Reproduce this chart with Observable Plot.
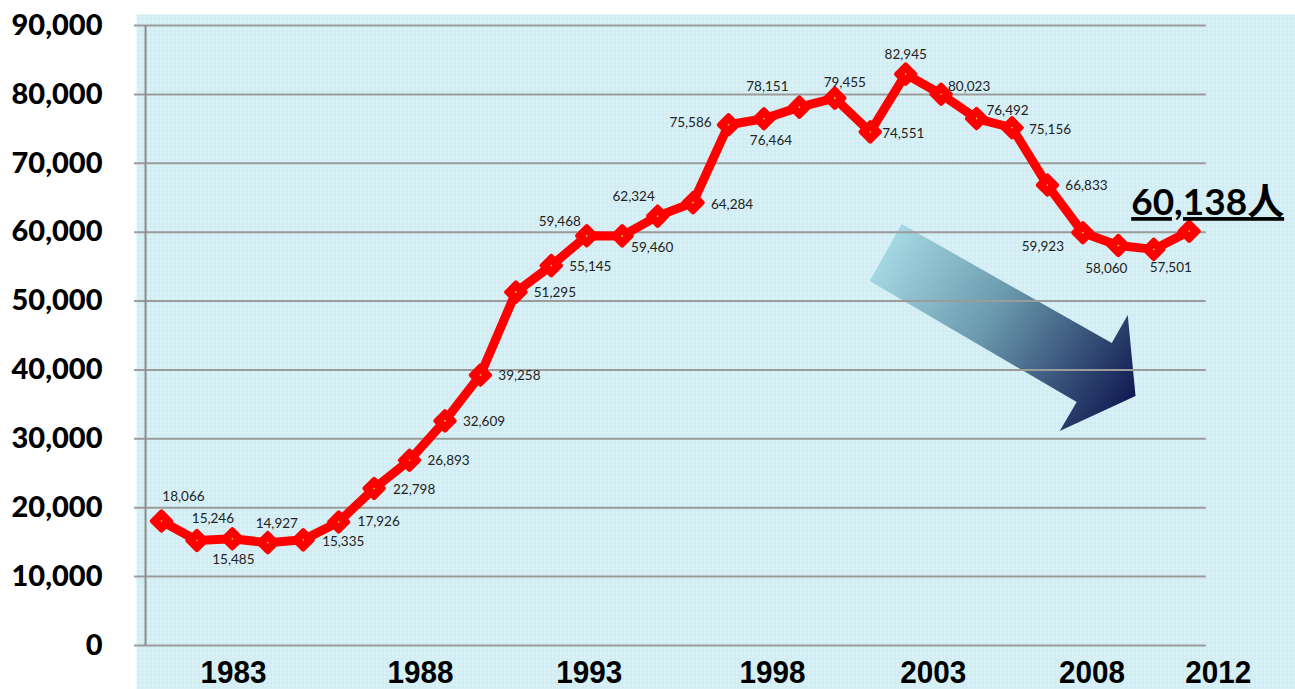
<!DOCTYPE html>
<html><head><meta charset="utf-8">
<script src="https://cdn.jsdelivr.net/npm/d3@7"></script>
<script src="https://cdn.jsdelivr.net/npm/@observablehq/plot@0.6"></script>
<style>
html,body{margin:0;padding:0;background:#fff;}
#chart svg{display:block;}
</style></head><body><div id="chart"></div>
<script>
// ---- data ----
const years = [1983,1984,1985,1986,1987,1988,1989,1990,1991,1992,1993,1994,1995,1996,1997,1998,1999,2000,2001,2002,2003,2004,2005,2006,2007,2008,2009,2010,2011,2012];
const students = [18066,15246,15485,14927,15335,17926,22798,26893,32609,39258,51295,55145,59468,59460,62324,64284,75586,76464,78151,79455,74551,82945,80023,76492,75156,66833,59923,58060,57501,60138];
const yTicks = [0,10000,20000,30000,40000,50000,60000,70000,80000,90000];
const xTickLabels = ["1983","1988","1993","1998","2003","2008","2012"];
const unit = "人";

const data = years.map((year, i) => ({year, value: students[i]}));
const fmt = d3.format(",");

// ---- placement (px offsets of each value label from its point) ----
const labelOffsets = [[22,-24],[16,-22],[1,21],[9,-19],[40,2],[40,0],[40,1],[39,0],[39,1],[39,1],
  [39,1],[39,1],[-27,-14],[30,12],[-24,-19],[39,2],[-38,-2],[7,22],[-32,-20],[10,-15],
  [33,2],[0,-19],[28,-8],[31,-8],[38,2],[39,1],[-40,14],[-12,23],[17,18]];
// x-axis labels sit where the original's text boxes were
const xTickAt = [1985.03, 1990.31, 1995.07, 2000.24, 2004.78, 2009.26, 2012.82];

const font = "Lato, 'Noto Sans CJK JP', sans-serif";
const axisFont = "'Liberation Sans', Arial, sans-serif";

const valueLabels = data.slice(0, -1).map((d, i) => Plot.text([d], {
  x: "year", y: "value", text: d => fmt(d.value),
  dx: labelOffsets[i][0], dy: labelOffsets[i][1],
  fontSize: 13.5, fill: "#222", fontFamily: font
}));

const plot = Plot.plot({
  width: 1295, height: 689,
  marginLeft: 136, marginRight: 0, marginTop: 14, marginBottom: 0,
  style: {fontFamily: font, color: "#000", background: "#fff", overflow: "visible"},
  x: {domain: [1982.295, 2015.0], axis: null},
  y: {domain: [-6387, 91597], axis: null},
  marks: [
    Plot.frame({fill: "url(#bgpat)", stroke: null}),
    Plot.ruleY(yTicks, {y: d => d, x1: 1982.24, x2: 2012.48, stroke: "#9b9b9b", strokeWidth: 2}),
    Plot.ruleX([1982.55], {y1: 0, y2: 90000, stroke: "#8c8c8c", strokeWidth: 2}),
    Plot.line(data, {x: "year", y: "value", stroke: "#ff0000", strokeWidth: 9, strokeLinejoin: "round"}),
    Plot.dot(data, {x: "year", y: "value", symbol: "diamond2", r: 8.5, fill: "#ff0000", stroke: "#ff0000", strokeWidth: 4.5, strokeLinejoin: "round"}),
    Plot.dot(data, {x: "year", y: "value", r: 0.8, fill: "#ffff00", stroke: null}),
    ...valueLabels,
    Plot.text([data[data.length - 1]], {
      x: "year", y: "value", text: d => fmt(d.value) + unit,
      textAnchor: "start", dx: -58, dy: -28, fontSize: 37, fontWeight: "bold", fill: "#000", fontFamily: font
    }),
    Plot.axisY({ticks: yTicks, tickSize: 0, tickPadding: 34, anchor: "left", label: null,
      tickFormat: fmt, fontSize: 29, fontWeight: 900, fontFamily: font, fill: "#000"}),
    Plot.text(xTickLabels, {x: (d, i) => xTickAt[i], frameAnchor: "bottom", lineAnchor: "bottom", dy: -7,
      fontSize: 31, fontWeight: "bold", fontFamily: axisFont, fill: "#000"})
  ]
});

// defs: background texture + arrow gradient
const NS = "http://www.w3.org/2000/svg";
const svg = d3.select(plot);
const defs = svg.insert("defs", ":first-child");
const pat = defs.append("pattern").attr("id", "bgpat").attr("patternUnits", "userSpaceOnUse")
  .attr("width", 4).attr("height", 4);
pat.append("rect").attr("width", 4).attr("height", 4).attr("fill", "#cfecf3");
pat.append("rect").attr("width", 4).attr("height", 1).attr("fill", "#dcf2f7");
pat.append("rect").attr("width", 1).attr("height", 4).attr("fill", "#dcf2f7");
const grad = defs.append("linearGradient").attr("id", "arrowgrad").attr("gradientUnits", "userSpaceOnUse")
  .attr("x1", 880).attr("y1", 240).attr("x2", 1130).attr("y2", 400);
grad.append("stop").attr("offset", 0).attr("stop-color", "#a6dce6");
grad.append("stop").attr("offset", 0.45).attr("stop-color", "#6596aa");
grad.append("stop").attr("offset", 1).attr("stop-color", "#07104a");

// decorative arrow (in data space) drawn just above the frame
const sx = plot.scale("x"), sy = plot.scale("y");
const arrowShape = [[2003.90,61112],[2009.83,43838],[2010.28,47903],[2010.50,36145],[2008.36,31064],[2008.84,35273],[2003.00,52838]];
const frameEl = plot.querySelector('[aria-label="frame"]');
const poly = document.createElementNS(NS, "polygon");
poly.setAttribute("points", arrowShape.map(([a, b]) => `${sx.apply(a)},${sy.apply(b)}`).join(" "));
poly.setAttribute("fill", "url(#arrowgrad)");
poly.setAttribute("fill-opacity", "0.95");
frameEl.after(poly);

// underline the highlighted final value
svg.selectAll("text").filter(function() { return this.textContent.includes(unit); })
  .style("text-decoration", "underline");

// condensed look of the year labels
svg.selectAll("text").filter(function() { return xTickLabels.includes(this.textContent); })
  .attr("textLength", 66).attr("lengthAdjust", "spacingAndGlyphs");

document.getElementById("chart").appendChild(plot);
</script></body></html>
